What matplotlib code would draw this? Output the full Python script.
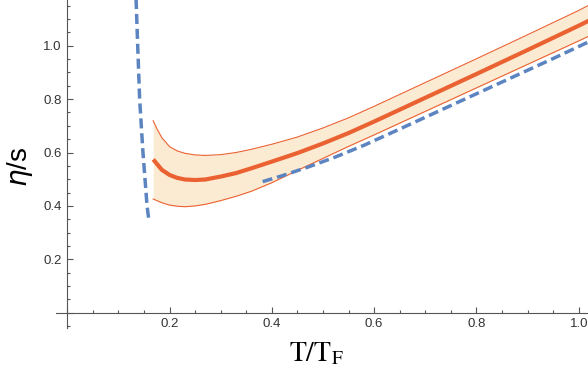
import numpy as np
import matplotlib
matplotlib.use('Agg')
import matplotlib.pyplot as plt
from matplotlib.ticker import MultipleLocator, FuncFormatter

# ─── Données ──────────────────────────────────────────────────────────────
T_band  = [0.168, 0.175, 0.185, 0.20, 0.215, 0.23, 0.25, 0.27, 0.30, 0.33, 0.36,
           0.40, 0.45, 0.50, 0.55, 0.60, 0.70, 0.80, 0.90, 1.00, 1.02]
eta_mid = [0.574, 0.558, 0.535, 0.516, 0.505, 0.499, 0.497, 0.499, 0.510, 0.523, 0.541,
           0.566, 0.598, 0.634, 0.673, 0.716, 0.805, 0.894, 0.984, 1.075, 1.094]
eta_up  = [0.719, 0.690, 0.655, 0.622, 0.606, 0.597, 0.591, 0.589, 0.592, 0.600, 0.612,
           0.631, 0.658, 0.692, 0.730, 0.773, 0.862, 0.951, 1.041, 1.132, 1.152]
eta_lo  = [0.426, 0.420, 0.412, 0.403, 0.399, 0.397, 0.400, 0.406, 0.420, 0.436, 0.455,
           0.487, 0.533, 0.578, 0.623, 0.666, 0.754, 0.842, 0.930, 1.018, 1.036]

T_hi    = [0.382, 0.42, 0.47, 0.524, 0.58, 0.65, 0.75, 0.85, 0.95, 1.02]
eta_hi  = [0.491, 0.513, 0.545, 0.583, 0.627, 0.688, 0.776, 0.864, 0.952, 1.015]

T_lo    = [0.1345, 0.1377, 0.1415, 0.148, 0.156, 0.159]
eta_lo_T = [1.175, 1.0, 0.8, 0.6, 0.4, 0.355]

orange = '#EB6232'
blue   = '#5B84C0'
fill   = '#FCEBD3'
gray   = '#555555'

fig = plt.figure(figsize=(5.88, 3.73), dpi=100)
ax = fig.add_axes([56/588, 45/373, 532/588, 328/373])

ax.fill_between(T_band, eta_lo, eta_up, color=fill, lw=0)
ax.plot(T_band, eta_up, color=orange, lw=0.8)
ax.plot(T_band, eta_lo, color=orange, lw=0.8)
ax.plot(T_band, eta_mid, color=orange, lw=3.0, solid_capstyle='butt')
ax.plot(T_hi, eta_hi, color=blue, lw=2.5, dashes=(2.9, 1.4), dash_capstyle='butt')
ax.plot(T_lo, eta_lo_T, color=blue, lw=2.5, dashes=(2.9, 1.4), dash_capstyle='butt')

ax.set_xlim(-0.022, 1.018)
ax.set_ylim(-0.057, 1.171)

# axes croisées à l'origine, style Mathematica
for s in ['top', 'right']:
    ax.spines[s].set_visible(False)
ax.spines['left'].set_position(('data', 0))
ax.spines['bottom'].set_position(('data', 0))
for s in ['left', 'bottom']:
    ax.spines[s].set_color(gray)
    ax.spines[s].set_linewidth(0.8)

ax.xaxis.set_major_locator(MultipleLocator(0.2))
ax.xaxis.set_minor_locator(MultipleLocator(0.05))
ax.yaxis.set_major_locator(MultipleLocator(0.2))
ax.yaxis.set_minor_locator(MultipleLocator(0.05))
fmt = FuncFormatter(lambda v, p: '' if abs(v) < 1e-9 else f'{v:.1f}')
ax.xaxis.set_major_formatter(fmt)
ax.yaxis.set_major_formatter(fmt)
ax.tick_params(which='both', direction='in', color=gray, width=0.8,
               labelsize=9.5, labelcolor='#333333')
ax.tick_params(which='major', length=4.5, pad=4)
ax.tick_params(which='minor', length=2.5)
for lab in ax.get_xticklabels() + ax.get_yticklabels():
    lab.set_family('Liberation Sans')

fig.text(316/588, 1 - 353/373, r'$\mathrm{T/T_F}$', ha='center', va='center',
         fontsize=20, math_fontfamily='stix')
fig.text(20/588, 1 - 167/373, r'$\eta$/s', ha='center', va='center',
         rotation=90, fontsize=20, family='Liberation Sans',
         math_fontfamily='dejavusans')

plt.savefig('out.png', dpi=100)
